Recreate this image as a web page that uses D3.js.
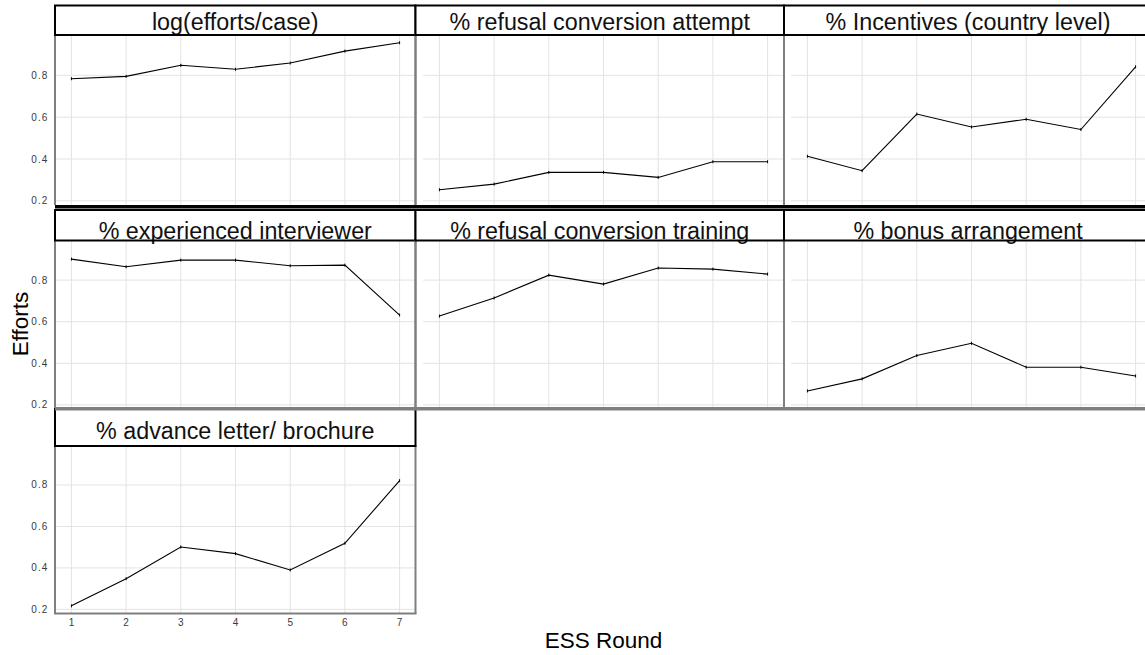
<!DOCTYPE html>
<html>
<head>
<meta charset="utf-8">
<script src="https://cdn.jsdelivr.net/npm/d3@7"></script>
<style>
  body { margin: 0; background: #fff; }
  svg { display: block; font-family: "Liberation Sans", Arial, sans-serif; }
</style>
</head>
<body>
<svg id="chart" width="1145" height="655"></svg>
<script>
const width = 1145, height = 655;

// data
const rounds = [1, 2, 3, 4, 5, 6, 7];
const panelTitles = ['log(efforts/case)', '% refusal conversion attempt', '% Incentives (country level)',
                     '% experienced interviewer', '% refusal conversion training', '% bonus arrangement',
                     '% advance letter/ brochure'];
const effortsPerCase = [0.784, 0.795, 0.848, 0.829, 0.859, 0.916, 0.956];
const refusalAttempt = [0.253, 0.280, 0.336, 0.336, 0.312, 0.387, 0.387];
const incentives = [0.413, 0.344, 0.615, 0.553, 0.590, 0.541, 0.841];
const experienced = [0.901, 0.864, 0.896, 0.896, 0.869, 0.872, 0.632];
const refusalTraining = [0.627, 0.714, 0.824, 0.781, 0.858, 0.853, 0.829];
const bonus = [0.267, 0.325, 0.437, 0.496, 0.381, 0.381, 0.339];
const advanceLetter = [0.217, 0.348, 0.501, 0.469, 0.390, 0.519, 0.821];
const yTicks = [0.2, 0.4, 0.6, 0.8];

const allSeries = [effortsPerCase, refusalAttempt, incentives, experienced, refusalTraining, bonus, advanceLetter];

// layout of the facet grid
const colLeft = [55, 423, 791];
const panelW = 361;
const stripX = [[55, 415.5], [415.5, 784], [784, 1152]];
const rowPanel = [[35, 205], [240, 409], [445, 613.5]];
const rowStrip = [[5.5, 35], [210, 240.5], [409, 446]];
const stripBase = [29.5, 238.5, 439];
const borderGray = '#7f7f7f';

const svg = d3.select('#chart');

const [lo, hi] = d3.extent(allSeries.flat());
const pad = (hi - lo) * 0.05;

allSeries.forEach((vals, i) => {
  const r = Math.floor(i / 3), c = i % 3;
  const x = d3.scaleLinear().domain([0.7, 7.3]).range([colLeft[c], colLeft[c] + panelW]);
  const y = d3.scaleLinear().domain([lo - pad, hi + pad]).range([rowPanel[r][1], rowPanel[r][0]]);
  const g = svg.append('g');

  // strip
  const s = g.append('g');
  s.append('rect')
    .attr('x', stripX[c][0]).attr('y', rowStrip[r][0])
    .attr('width', stripX[c][1] - stripX[c][0]).attr('height', rowStrip[r][1] - rowStrip[r][0])
    .attr('fill', '#fff');
  s.append('text')
    .attr('x', (stripX[c][0] + stripX[c][1]) / 2)
    .attr('y', stripBase[r])
    .attr('text-anchor', 'middle')
    .attr('font-size', 23.3)
    .attr('fill', '#111')
    .text(panelTitles[i]);

  // panel background + grid
  g.append('rect')
    .attr('x', colLeft[c]).attr('y', rowPanel[r][0])
    .attr('width', panelW).attr('height', rowPanel[r][1] - rowPanel[r][0])
    .attr('fill', '#fff');
  g.append('g').selectAll('line').data(yTicks).join('line')
    .attr('x1', colLeft[c]).attr('x2', colLeft[c] + panelW)
    .attr('y1', d => y(d)).attr('y2', d => y(d))
    .attr('stroke', '#e3e3e3').attr('stroke-width', 1);
  g.append('g').selectAll('line').data(rounds).join('line')
    .attr('x1', d => x(d)).attr('x2', d => x(d))
    .attr('y1', rowPanel[r][0]).attr('y2', rowPanel[r][1])
    .attr('stroke', '#e3e3e3').attr('stroke-width', 1);

  // series
  const pts = rounds.map((d, k) => [d, vals[k]]);
  g.append('path')
    .datum(pts)
    .attr('fill', 'none')
    .attr('stroke', '#000')
    .attr('stroke-width', 1.1)
    .attr('d', d3.line().x(d => x(d[0])).y(d => y(d[1])));
  g.append('g').selectAll('line').data(pts).join('line')
    .attr('x1', d => x(d[0])).attr('x2', d => x(d[0]))
    .attr('y1', d => y(d[1]) - 1.5).attr('y2', d => y(d[1]) + 1.5)
    .attr('stroke', '#000').attr('stroke-width', 1);

  // y axis labels on left column
  if (c === 0) {
    g.append('g').selectAll('text').data(yTicks).join('text')
      .attr('x', 48.5).attr('y', d => y(d))
      .attr('dy', '0.35em')
      .attr('text-anchor', 'end')
      .attr('font-size', 10)
      .attr('letter-spacing', 1.1)
      .attr('fill', '#3a3a3a')
      .text(d => d3.format('.1f')(d));
  }
  // x axis labels under the bottom panel
  if (r === 2) {
    g.append('g').selectAll('text').data(rounds).join('text')
      .attr('x', d => x(d)).attr('y', 626)
      .attr('text-anchor', 'middle')
      .attr('font-size', 10)
      .attr('fill', '#3a3a3a')
      .text(d => d);
  }

  // panel borders (grey)
  g.append('line')
    .attr('x1', stripX[c][0]).attr('x2', stripX[c][0])
    .attr('y1', rowPanel[r][0]).attr('y2', rowPanel[r][1])
    .attr('stroke', borderGray).attr('stroke-width', 2);
  g.append('line')
    .attr('x1', stripX[c][1]).attr('x2', stripX[c][1])
    .attr('y1', rowPanel[r][0]).attr('y2', rowPanel[r][1])
    .attr('stroke', borderGray).attr('stroke-width', 2);

  // strip outline (black)
  s.append('rect')
    .attr('x', stripX[c][0]).attr('y', rowStrip[r][0])
    .attr('width', stripX[c][1] - stripX[c][0]).attr('height', rowStrip[r][1] - rowStrip[r][0])
    .attr('fill', 'none').attr('stroke', '#000').attr('stroke-width', 2);
  s.raise();
});

// row separators
svg.append('rect').attr('x', 55).attr('y', 205).attr('width', width - 55).attr('height', 3.5).attr('fill', '#000');
svg.append('rect').attr('x', 55).attr('y', 407).attr('width', width - 55).attr('height', 3.5).attr('fill', borderGray);
svg.append('line').attr('x1', 54).attr('x2', 416.5).attr('y1', 613.5).attr('y2', 613.5)
  .attr('stroke', borderGray).attr('stroke-width', 2);

// axis titles
svg.append('text')
  .attr('transform', `translate(28,324) rotate(-90)`)
  .attr('text-anchor', 'middle')
  .attr('font-size', 22.5)
  .attr('fill', '#000')
  .text('Efforts');
svg.append('text')
  .attr('x', 603.5).attr('y', 648)
  .attr('text-anchor', 'middle')
  .attr('font-size', 22.5)
  .attr('fill', '#000')
  .text('ESS Round');
</script>
</body>
</html>
